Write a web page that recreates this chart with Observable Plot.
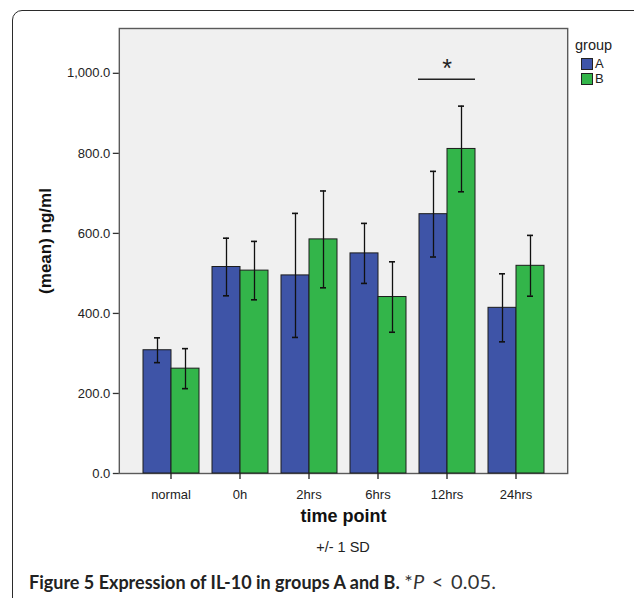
<!DOCTYPE html>
<html>
<head>
<meta charset="utf-8">
<script src="https://cdn.jsdelivr.net/npm/d3@7"></script>
<script src="https://cdn.jsdelivr.net/npm/@observablehq/plot@0.6"></script>
<style>
  html, body { margin: 0; padding: 0; background: #fff; }
  #wrap { position: relative; width: 634px; height: 598px; overflow: hidden; font-family: "Liberation Sans", Arial, sans-serif; }
  #border { position: absolute; left: 12px; top: 10px; width: 700px; height: 700px; border: 1.5px solid #2b2b2b; border-radius: 10px; }
  #chart { position: absolute; left: 0; top: 0; }
  #legend { position: absolute; left: 575px; top: 37px; font-size: 14.5px; color: #222; }
  #legend .row { display: flex; align-items: center; height: 15px; margin-left: 6px; font-size: 13px; }
  #legend .sw { width: 10px; height: 10px; border: 1px solid #222; margin-right: 2px; }
  #sd { position: absolute; top: 539px; left: 119px; width: 448px; text-align: center; font-size: 14.5px; color: #222; }
  #caption { position: absolute; left: 29px; top: 569px; font-family: Lato, "Open Sans", sans-serif; font-size: 18px; color: #222; white-space: nowrap; }
  #caption .p { font-size: 20px; letter-spacing: 0.2px; word-spacing: 2px; color: #333; }
</style>
</head>
<body>
<div id="wrap">
  <div id="border"></div>
  <div id="chart"></div>
  <div id="legend"></div>
  <div id="sd">+/- 1 SD</div>
  <div id="caption"><b>Figure 5 Expression of IL-10 in groups A and B.</b> <span class="p">*<i>P</i> &lt; 0.05.</span></div>
</div>
<script>
const times = ["normal", "0h", "2hrs", "6hrs", "12hrs", "24hrs"];
const groups = ["A", "B"];
const meanA = [308, 516, 495, 550, 648, 414];
const sdA   = [31, 72, 155, 75, 107, 85];
const meanB = [262, 507, 585, 441, 811, 519];
const sdB   = [50, 73, 121, 88, 107, 76];
const yTicks = [0, 200, 400, 600, 800, 1000];
const colors = ["#3e54a7", "#33b54a"];
const sigTime = ["12hrs"];
const sigLine = [985];
const sigStar = [1012];
const yLabel = "(mean) ng/ml";
const xLabel = "time point";

const rows = times.flatMap((t, i) => [
  {time: t, group: "A", mean: meanA[i], sd: sdA[i]},
  {time: t, group: "B", mean: meanB[i], sd: sdB[i]}
]);

// layout of the facet (time point) band scale
const W = 634, H = 535, mL = 119, mR = 67, mT = 28, mB = 62;
const padIn = 0.18, padOut = 0.336;
const step = (W - mL - mR) / (times.length - padIn + 2 * padOut);
const outer = padOut * step; // gap between the frame and the first / last facet

const chart = Plot.plot({
  width: W,
  height: H,
  marginTop: mT,
  marginBottom: mB,
  marginLeft: mL,
  marginRight: mR,
  style: {fontFamily: "'Liberation Sans', Arial, sans-serif", fontSize: "13px", background: "transparent", color: "#222", overflow: "visible"},
  fx: {domain: times, paddingInner: padIn, paddingOuter: padOut, label: null},
  x: {domain: groups, padding: 0, axis: null},
  y: {domain: [0, 1112], axis: null},
  color: {domain: groups, range: colors},
  marks: [
    Plot.frame({facet: "super", insetLeft: -outer, insetRight: -outer, fill: "#f0f0f0", stroke: "#5a5a5a", strokeWidth: 1.4}),
    Plot.barY(rows, {fx: "time", x: "group", y: "mean", fill: "group", stroke: "#1c1c1c", strokeWidth: 1}),
    Plot.ruleX(rows, {fx: "time", x: "group", y1: d => d.mean - d.sd, y2: d => d.mean + d.sd, stroke: "#111", strokeWidth: 1.3}),
    Plot.tickY(rows, {fx: "time", x: "group", y: d => d.mean + d.sd, insetLeft: 11, insetRight: 11, stroke: "#111", strokeWidth: 1.6}),
    Plot.tickY(rows, {fx: "time", x: "group", y: d => d.mean - d.sd, insetLeft: 11, insetRight: 11, stroke: "#111", strokeWidth: 1.6}),
    Plot.ruleY(sigLine, {fx: sigTime, y: d => d, stroke: "#222", strokeWidth: 1.5}),
    Plot.text(sigStar, {fx: sigTime, y: d => d, text: () => "*", fontSize: 25, fill: "#222"}),
    Plot.axisY({ticks: yTicks, tickFormat: d3.format(",.1f"), tickSize: 6, tickPadding: 3, label: null, fontSize: 13, dx: -outer, stroke: "#333", strokeWidth: 1.3}),
    Plot.axisFx({anchor: "bottom", tickSize: 6, tickPadding: 10, label: null, fontSize: 13, stroke: "#222", strokeWidth: 1.3}),
    Plot.text([yLabel], {facet: "super", frameAnchor: "left", textAnchor: "middle", rotate: -90, dx: -(outer + 74), dy: -10, text: d => d, fontWeight: "bold", fontSize: 17, fill: "#111"}),
    Plot.text([xLabel], {facet: "super", frameAnchor: "bottom", dy: 48, text: d => d, fontWeight: "bold", fontSize: 18, fill: "#111"})
  ]
});
document.getElementById("chart").appendChild(chart);

const legend = document.getElementById("legend");
const title = document.createElement("div");
title.textContent = "group";
title.style.marginBottom = "3px";
legend.appendChild(title);
groups.forEach((g, i) => {
  const row = document.createElement("div");
  row.className = "row";
  const sw = document.createElement("div");
  sw.className = "sw";
  sw.style.background = colors[i];
  const lab = document.createElement("span");
  lab.textContent = g;
  row.appendChild(sw);
  row.appendChild(lab);
  legend.appendChild(row);
});
</script>
</body>
</html>
